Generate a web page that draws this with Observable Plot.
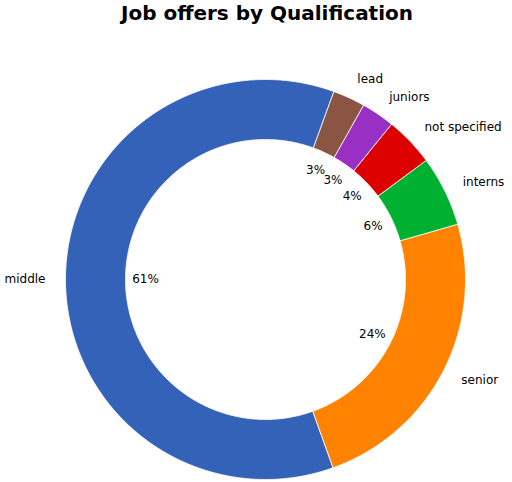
<!DOCTYPE html>
<html>
<head>
<meta charset="utf-8">
<script src="https://cdn.jsdelivr.net/npm/d3@7"></script>
<script src="https://cdn.jsdelivr.net/npm/@observablehq/plot@0.6"></script>
<style>
  html, body { margin: 0; padding: 0; background: #fff; }
  #title { font-family: "DejaVu Sans", sans-serif; font-weight: bold; font-size: 20px;
           text-align: center; width: 512px; height: 30px; line-height: 26px; padding-left: 22px; box-sizing: border-box; color: #000; }
</style>
</head>
<body>
<div id="title">Job offers by Qualification</div>
<div id="chart"></div>
<script>
const categories = ["middle", "senior", "interns", "not specified", "juniors", "lead"];
const shares = [61.1, 24.0, 5.7, 4.0, 2.7, 2.6];
const pctLabels = ["61%", "24%", "6%", "4%", "3%", "3%"];
const colors = ["#3462b8", "#ff8200", "#00b030", "#dc0000", "#9a2fc4", "#8b5543"];
const startAngle = 70; // degrees, counterclockwise like matplotlib
const innerRatio = 0.7;

const total = d3.sum(shares);
const slices = [];
let cum = 0;
categories.forEach((c, i) => {
  const a0 = startAngle + (cum / total) * 360;
  cum += shares[i];
  const a1 = startAngle + (cum / total) * 360;
  slices.push({cat: c, a0, a1, mid: (a0 + a1) / 2, pct: pctLabels[i]});
});

const rad = (d) => (d * Math.PI) / 180;
const pts = [];
for (const s of slices) {
  const n = Math.max(4, Math.ceil((s.a1 - s.a0) * 2));
  const outer = d3.range(n + 1).map((k) => s.a0 + ((s.a1 - s.a0) * k) / n);
  for (const a of outer) pts.push({cat: s.cat, x: Math.cos(rad(a)), y: Math.sin(rad(a))});
  for (const a of outer.slice().reverse()) pts.push({cat: s.cat, x: innerRatio * Math.cos(rad(a)), y: innerRatio * Math.sin(rad(a))});
  pts.push({cat: s.cat, x: Math.cos(rad(s.a0)), y: Math.sin(rad(s.a0))});
}

const labels = slices.map((s) => ({
  cat: s.cat,
  x: 1.1 * Math.cos(rad(s.mid)),
  y: 1.1 * Math.sin(rad(s.mid))
}));
const pcts = slices.map((s) => ({
  pct: s.pct,
  x: 0.6 * Math.cos(rad(s.mid)),
  y: 0.6 * Math.sin(rad(s.mid))
}));

const cx = 265, cy = 249, R = 200;
const chart = Plot.plot({
  width: 512,
  height: 452,
  margin: 0,
  style: {fontFamily: "DejaVu Sans, sans-serif", fontSize: "12px", background: "#fff"},
  x: {domain: [-1, 1], range: [cx - R, cx + R], axis: null},
  y: {domain: [-1, 1], range: [cy + R, cy - R], axis: null},
  color: {domain: categories, range: colors},
  marks: [
    Plot.line(pts, {x: "x", y: "y", z: "cat", fill: "cat", stroke: "#fff", strokeWidth: 0.8, curve: "linear"}),
    Plot.text(labels.filter((d) => d.x >= 0), {x: "x", y: "y", text: "cat", textAnchor: "start", fontSize: 12, fill: "#000"}),
    Plot.text(labels.filter((d) => d.x < 0), {x: "x", y: "y", text: "cat", textAnchor: "end", fontSize: 12, fill: "#000"}),
    Plot.text(pcts, {x: "x", y: "y", text: "pct", fontSize: 12, fill: "#000"})
  ]
});
document.getElementById("chart").appendChild(chart);
</script>
</body>
</html>
